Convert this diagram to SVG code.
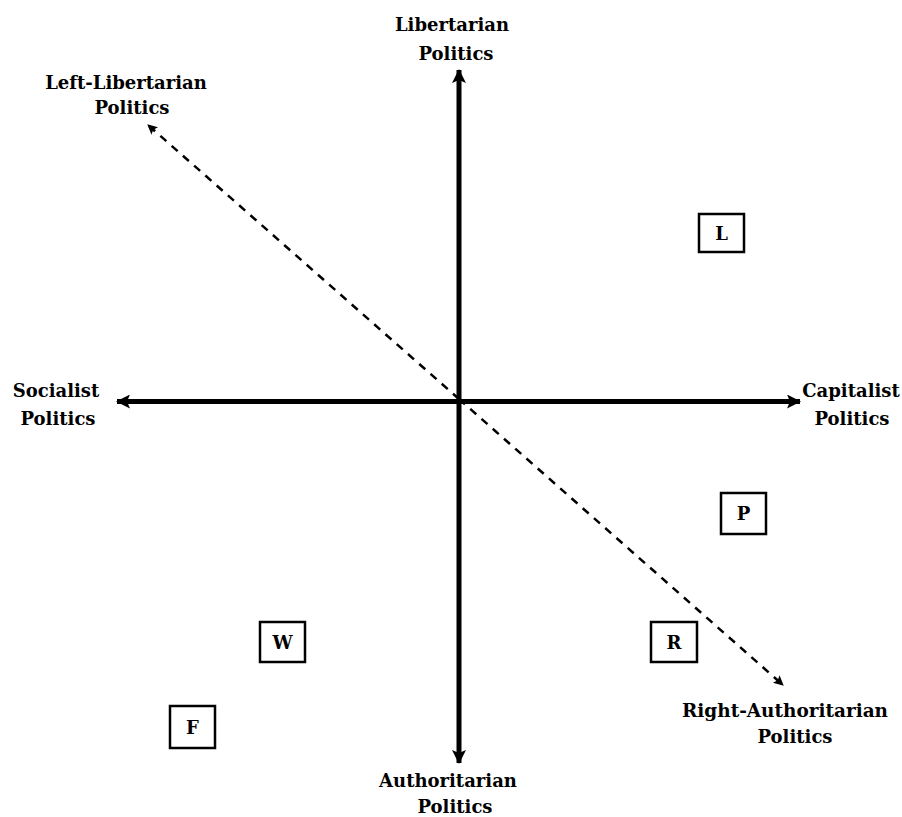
<svg xmlns="http://www.w3.org/2000/svg" width="902" height="817" viewBox="0 0 902 817">
<defs>
<style>
.lbl{font-family:"DejaVu Serif","Liberation Serif",serif;font-weight:bold;font-size:18px;fill:#000;text-anchor:middle}
.box{fill:#fff;stroke:#000;stroke-width:2.5}
.axis{stroke:#000;stroke-width:5;fill:none}
.dash{stroke:#000;stroke-width:2.5;fill:none;stroke-dasharray:8 7}
</style>
<marker id="ah" viewBox="0 0 14 14" refX="13" refY="7" markerWidth="14" markerHeight="14" markerUnits="userSpaceOnUse" orient="auto">
<path d="M0,0 L14,7 L0,14 L3,7 Z" fill="#000"/>
</marker>
<marker id="dh" viewBox="0 0 10 10" refX="9" refY="5" markerWidth="10" markerHeight="10" markerUnits="userSpaceOnUse" orient="auto">
<path d="M0,0 L10,5 L0,10 L2,5 Z" fill="#000"/>
</marker>
</defs>
<rect width="902" height="817" fill="#fff"/>
<g id="connectors">
<line class="axis" x1="459" y1="401" x2="459" y2="70" marker-end="url(#ah)"/>
<line class="axis" x1="459" y1="401" x2="459" y2="763" marker-end="url(#ah)"/>
<line class="axis" x1="459" y1="401.5" x2="117" y2="401.5" marker-end="url(#ah)"/>
<line class="axis" x1="459" y1="401.5" x2="800" y2="401.5" marker-end="url(#ah)"/>
<line class="dash" x1="459" y1="399" x2="148" y2="125" marker-end="url(#dh)"/>
<line class="dash" x1="459" y1="399" x2="783" y2="685" marker-end="url(#dh)"/>
</g>
<g id="lib-label"><text class="lbl" x="452" y="31">Libertarian</text><text class="lbl" x="456" y="60">Politics</text></g>
<g id="leftlib-label"><text class="lbl" x="126" y="89">Left-Libertarian</text><text class="lbl" x="132" y="114">Politics</text></g>
<g id="soc-label"><text class="lbl" x="56" y="397">Socialist</text><text class="lbl" x="58" y="425">Politics</text></g>
<g id="cap-label"><text class="lbl" x="851" y="397">Capitalist</text><text class="lbl" x="852" y="425">Politics</text></g>
<g id="rightauth-label"><text class="lbl" x="785" y="717" textLength="206" lengthAdjust="spacingAndGlyphs">Right-Authoritarian</text><text class="lbl" x="795" y="743">Politics</text></g>
<g id="auth-label"><text class="lbl" x="448" y="787">Authoritarian</text><text class="lbl" x="455" y="813">Politics</text></g>
<g id="node-L"><rect class="box" x="699" y="214" width="45" height="38"/><text class="lbl" x="721.5" y="240">L</text></g>
<g id="node-P"><rect class="box" x="721" y="493" width="45" height="41"/><text class="lbl" x="743.5" y="520">P</text></g>
<g id="node-R"><rect class="box" x="651" y="622" width="46" height="40"/><text class="lbl" x="674" y="649">R</text></g>
<g id="node-W"><rect class="box" x="260" y="622" width="45" height="40"/><text class="lbl" x="282.5" y="649">W</text></g>
<g id="node-F"><rect class="box" x="170" y="706" width="45" height="42"/><text class="lbl" x="192.5" y="734">F</text></g>
</svg>
